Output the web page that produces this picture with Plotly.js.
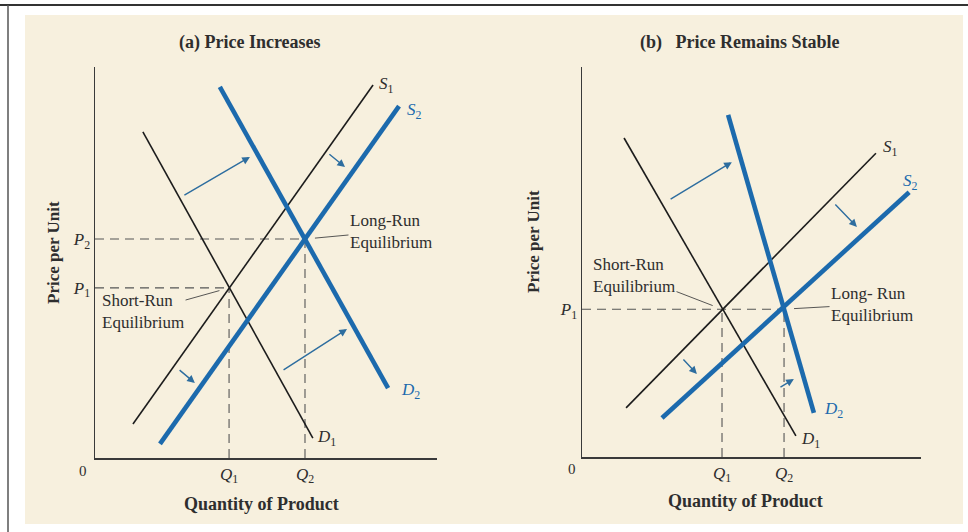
<!DOCTYPE html>
<html><head><meta charset="utf-8">
<script src="https://cdn.plot.ly/plotly-3.0.1.min.js"></script>
<style>html,body{margin:0;padding:0;background:#fff;}</style>
</head><body><div id="chart" style="width:968px;height:532px;"></div>
<script>
// ---------- Panel (a): Price Increases ----------
const aS1x = [1.11, 8.13], aS1y = [0.87, 9.54];
const aS2x = [1.90, 8.89], aS2y = [0.36, 9.00];
const aD1x = [1.40, 6.37], aD1y = [8.34, 0.51];
const aD2x = [3.65, 8.57], aD2y = [9.49, 1.79];
const aP = [4.35, 5.60];          // P1, P2
const aQ = [3.92, 6.14];          // Q1, Q2
const aPLabels = ['<i>P</i><sub>1</sub>', '<i>P</i><sub>2</sub>'];
const aQLabels = ['<i>Q</i><sub>1</sub>', '<i>Q</i><sub>2</sub>'];
// shift arrows: [tailX, tailY, headX, headY]
const aArrows = [[2.57, 6.70, 4.53, 7.70], [6.81, 7.80, 7.31, 7.44], [5.47, 2.23, 7.37, 3.30], [2.43, 2.28, 2.92, 1.92]];

// ---------- Panel (b): Price Remains Stable ----------
const bS1x = [1.30, 8.67], bS1y = [1.26, 7.79];
const bS2x = [2.36, 9.65], bS2y = [1.00, 6.79];
const bD1x = [1.24, 6.31], bD1y = [8.18, 0.54];
const bD2x = [4.31, 6.84], bD2y = [8.77, 1.13];
const bP = [3.79];                // P1
const bQ = [4.13, 5.96];          // Q1, Q2
const bPLabels = ['<i>P</i><sub>1</sub>'];
const bQLabels = ['<i>Q</i><sub>1</sub>', '<i>Q</i><sub>2</sub>'];
const bArrows = [[2.57, 6.59, 4.42, 7.56], [7.43, 6.51, 8.11, 5.90], [2.95, 2.54, 3.39, 2.13], [5.81, 1.77, 6.25, 2.00]];

const titles = ['(a) Price Increases', '(b)&nbsp;&nbsp; Price Remains Stable'];
const xTitle = 'Quantity of Product';
const yTitle = 'Price per Unit';

// ---------- styles ----------
const FONT = 'Liberation Serif, Times New Roman, serif';
const INK = '#2e2e2e';
const BLUE = '#1c6aad';
const CREAM = '#f7f0de';
const W = 968, H = 532;
const px = v => v / W, py = v => 1 - v / H;

function line(x, y, xa, ya, blue) {
  return {x: x, y: y, xaxis: xa, yaxis: ya, type: 'scatter', mode: 'lines', hoverinfo: 'skip',
    line: {color: blue ? BLUE : '#1c1c1c', width: blue ? 4.6 : 1.6}, showlegend: false};
}
const traces = [
  line(aS1x, aS1y, 'x', 'y', false), line(aD1x, aD1y, 'x', 'y', false),
  line(aS2x, aS2y, 'x', 'y', true), line(aD2x, aD2y, 'x', 'y', true),
  line(bS1x, bS1y, 'x2', 'y2', false), line(bD1x, bD1y, 'x2', 'y2', false),
  line(bS2x, bS2y, 'x2', 'y2', true), line(bD2x, bD2y, 'x2', 'y2', true)
];

function dash(xr, yr, x0, y0, x1, y1) {
  return {type: 'line', xref: xr, yref: yr, x0: x0, y0: y0, x1: x1, y1: y1, layer: 'below',
    line: {color: '#555', width: 1.1, dash: '9px,6px'}};
}
const shapes = [
  {type: 'rect', xref: 'paper', yref: 'paper', x0: px(25), x1: px(963), y0: py(524), y1: py(15), layer: 'below', line: {width: 0}, fillcolor: CREAM},
  {type: 'line', xref: 'paper', yref: 'paper', x0: 0, x1: 1, y0: py(5), y1: py(5), line: {color: '#333', width: 2}},
  {type: 'line', xref: 'paper', yref: 'paper', x0: px(8), x1: px(8), y0: py(5), y1: 0, line: {color: '#555', width: 1.5}},
  dash('x', 'y', 0, aP[0], aQ[0], aP[0]), dash('x', 'y', aQ[0], 0, aQ[0], aP[0]),
  dash('x', 'y', 0, aP[1], aQ[1], aP[1]), dash('x', 'y', aQ[1], 0, aQ[1], aP[1]),
  dash('x2', 'y2', 0, bP[0], bQ[1], bP[0]), dash('x2', 'y2', bQ[0], 0, bQ[0], bP[0]),
  dash('x2', 'y2', bQ[1], 0, bQ[1], bP[0])
];

const ann = [];
function txt(o) { ann.push(Object.assign({showarrow: false, xanchor: 'center', yanchor: 'middle', font: {family: FONT, size: 17, color: INK}}, o)); }
// panel titles
txt({xref: 'paper', yref: 'paper', x: px(250), y: py(43), text: '<b>' + titles[0] + '</b>', font: {family: FONT, size: 18, color: INK}});
txt({xref: 'paper', yref: 'paper', x: px(739), y: py(43), text: '<b>' + titles[1] + '</b>', font: {family: FONT, size: 18, color: INK}});
// axis titles
txt({xref: 'paper', yref: 'paper', x: px(261), y: py(504), text: '<b>' + xTitle + '</b>', font: {family: FONT, size: 18, color: INK}});
txt({xref: 'paper', yref: 'paper', x: px(745), y: py(501), text: '<b>' + xTitle + '</b>', font: {family: FONT, size: 18, color: INK}});
txt({xref: 'paper', yref: 'paper', x: px(53), y: py(253), text: '<b>' + yTitle + '</b>', textangle: -90, font: {family: FONT, size: 17, color: INK}});
txt({xref: 'paper', yref: 'paper', x: px(533), y: py(242), text: '<b>' + yTitle + '</b>', textangle: -90, font: {family: FONT, size: 17, color: INK}});
// origins
txt({xref: 'x', yref: 'y', x: 0, y: 0, text: '0', xshift: -12, yshift: -13, font: {family: FONT, size: 15, color: INK}});
txt({xref: 'x2', yref: 'y2', x: 0, y: 0, text: '0', xshift: -10, yshift: -12, font: {family: FONT, size: 15, color: INK}});
// curve labels
function lab(xr, yr, x, y, t, blue, dx, dy) {
  txt({xref: xr, yref: yr, x: x, y: y, text: '<i>' + t[0] + '</i><sub>' + t[1] + '</sub>', xshift: dx, yshift: dy,
    font: {family: FONT, size: 17, color: blue ? BLUE : INK}});
}
lab('x', 'y', aS1x[1], aS1y[1], 'S1', false, 13, 0);
lab('x', 'y', aS2x[1], aS2y[1], 'S2', true, 15, -5);
lab('x', 'y', aD1x[1], aD1y[1], 'D1', false, 14, 0);
lab('x', 'y', aD2x[1], aD2y[1], 'D2', true, 22, -3);
lab('x2', 'y2', bS1x[1], bS1y[1], 'S1', false, 15, 5);
lab('x2', 'y2', bS2x[1], bS2y[1], 'S2', true, 1, 10);
lab('x2', 'y2', bD1x[1], bD1y[1], 'D1', false, 15, -4);
lab('x2', 'y2', bD2x[1], bD2y[1], 'D2', true, 20, 3);
// equilibrium call-outs
function eq(xr, yr, x, y, t, ax, ay) {
  ann.push({xref: xr, yref: yr, x: x, y: y, text: t, align: 'left', showarrow: true, arrowhead: 0, arrowwidth: 0.9,
    arrowcolor: '#444', standoff: 10, ax: ax, ay: ay, font: {family: FONT, size: 17, color: INK}});
}
eq('x', 'y', aQ[1], aP[1], 'Long-Run<br>Equilibrium', 86, -8);
eq('x', 'y', aQ[0], aP[0], 'Short-Run<br>Equilibrium', -86, 24);
eq('x2', 'y2', bQ[0], bP[0], 'Short-Run<br>Equilibrium', -88, -34);
eq('x2', 'y2', bQ[1], bP[0], 'Long- Run<br>Equilibrium', 88, -5);
// shift arrows
function arrows(list, xr, yr) {
  list.forEach(a => ann.push({xref: xr, yref: yr, axref: xr, ayref: yr, x: a[2], y: a[3], ax: a[0], ay: a[1], text: '',
    showarrow: true, arrowhead: 2, arrowsize: 1.1, arrowwidth: 1.4, arrowcolor: '#2d6d9f'}));
}
arrows(aArrows, 'x', 'y');
arrows(bArrows, 'x2', 'y2');

function axis(dom, anchor, vals, texts) {
  return {domain: dom, anchor: anchor, range: [0, 10], fixedrange: true, showgrid: false, zeroline: false,
    showline: true, linecolor: '#3a3a3a', linewidth: 1.5, ticks: '', tickmode: 'array', tickvals: vals, ticktext: texts,
    tickfont: {family: FONT, size: 17, color: INK}};
}
const layout = {
  width: W, height: H, autosize: false, margin: {l: 0, r: 0, t: 0, b: 0},
  paper_bgcolor: '#ffffff', plot_bgcolor: 'rgba(0,0,0,0)', showlegend: false,
  xaxis: axis([px(95), px(437)], 'y', aQ, aQLabels),
  yaxis: axis([py(458), py(67)], 'x', aP, aPLabels),
  xaxis2: axis([px(582), px(921)], 'y2', bQ, bQLabels),
  yaxis2: axis([py(457), py(67)], 'x2', bP, bPLabels),
  shapes: shapes, annotations: ann
};
Plotly.newPlot('chart', traces, layout, {displayModeBar: false, staticPlot: true});
</script></body></html>
